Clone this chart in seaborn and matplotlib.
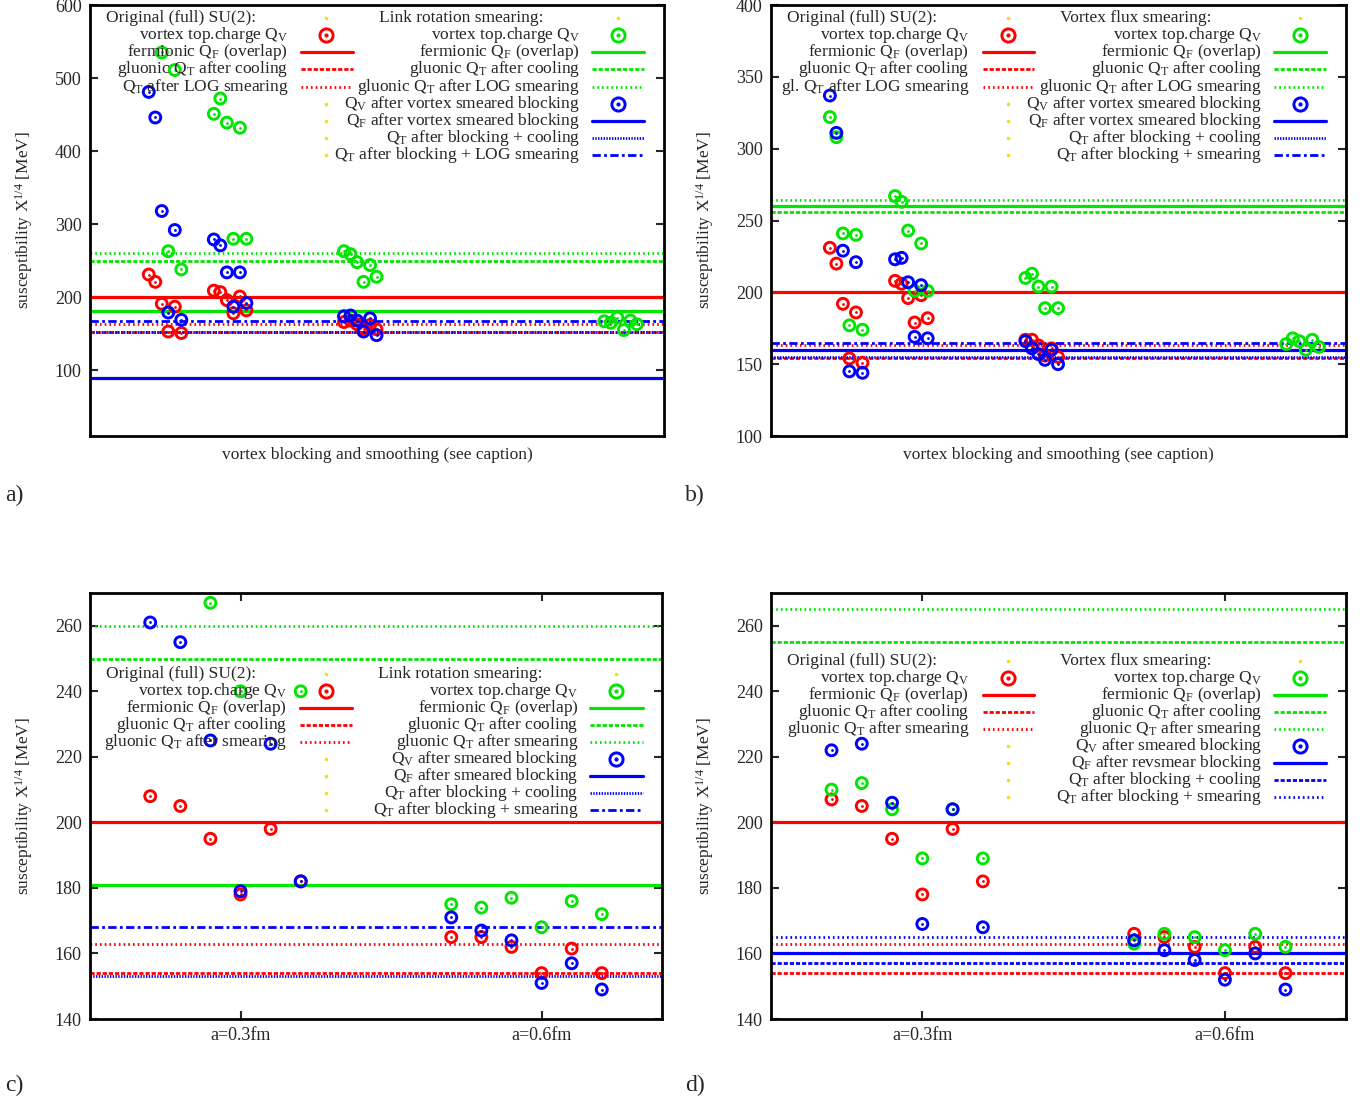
import numpy as np
import matplotlib
matplotlib.use("Agg")
import matplotlib.pyplot as plt
import seaborn as sns

nan = np.nan

# x layout: groups of six configurations
groups_ab = [1, 2, 4, 8]
offsets_ab = [-0.25, -0.15, -0.05, 0.05, 0.15, 0.25]
groups_cd = [0.3, 0.6]
offsets_cd = [-0.09, -0.06, -0.03, 0.0, 0.03, 0.06]

# panel a) link rotation smearing
red_a = [231, 221, 191, 153, 187, 151, 209, 207, 196, 178, 201, 182,
         166, 168, 163, 157, 162, 156, nan, nan, nan, nan, nan, nan]
green_a = [nan, nan, 535, 263, 511, 238, 451, 472, 439, 280, 432, 280,
           263, 259, 248, 221, 244, 228, 167, 165, 172, 155, 168, 163]
blue_a = [481, 446, 318, 179, 292, 169, 279, 271, 234, 187, 234, 192,
          174, 175, 168, 153, 171, 148, nan, nan, nan, nan, nan, nan]
lines_a_red = [200, 153, 164]
lines_a_green = [181, 250, 260]
lines_a_blue = [90, 153, 168]

# panel b) vortex flux smearing
red_b = [231, 220, 192, 154, 186, 151, 208, 206, 196, 179, 198, 182,
         167, 167, 163, 156, 161, 155, nan, nan, nan, nan, nan, nan]
green_b = [322, 308, 241, 177, 240, 174, 267, 263, 243, 201, 234, 201,
           210, 213, 204, 189, 204, 189, 164, 168, 166, 160, 167, 162]
blue_b = [337, 311, 229, 145, 221, 144, 223, 224, 207, 169, 205, 168,
          166, 161, 157, 153, 160, 150, nan, nan, nan, nan, nan, nan]
lines_b_red = [200, 154, 163]
lines_b_green = [260, 256, 264]
lines_b_blue = [160, 155, 165]

# panel c) link rotation smearing, two lattice spacings
red_c = [208, 205, 195, 178, 198, 182, 165, 165, 162, 154, 161.5, 154]
green_c = [nan, nan, 267, 240, nan, 240, 175, 174, 177, 168, 176, 172]
blue_c = [261, 255, 225, 179, 224, 182, 171, 167, 164, 151, 157, 149]
lines_c_red = [200, 154, 163]
lines_c_green = [181, 250, 260]
lines_c_blue = [90, 153, 168]

# panel d) vortex flux smearing, two lattice spacings
red_d = [207, 205, 195, 178, 198, 182, 166, 165, 162, 154, 162, 154]
green_d = [210, 212, 204, 189, 204, 189, 163, 166, 165, 161, 166, 162]
blue_d = [222, 224, 206, 169, 204, 168, 164, 161, 158, 152, 160, 149]
lines_d_red = [200, 154, 163]
lines_d_green = [nan, 255, 265]
lines_d_blue = [160, 157, 165]

RED, GREEN, BLUE, YELLOW = '#ff0000', '#00e600', '#0000ff', '#f5e000'
STYLES = {
    'solid': dict(ls='-', lw=2.3),
    'dashed': dict(ls=(0, (1.5, 0.7)), lw=2.0),
    'dotted': dict(ls=(0, (0.6, 1.1)), lw=2.0),
    'fine': dict(ls=(0, (0.5, 0.5)), lw=2.0),
    'dashdot': dict(ls=(0, (3.0, 1.2, 1.0, 1.2)), lw=2.0),
}

sns.set_style("ticks")
plt.rcParams['font.family'] = ['Liberation Serif', 'DejaVu Serif']
plt.rcParams['mathtext.fontset'] = 'custom'
plt.rcParams['mathtext.rm'] = 'Liberation Serif'
plt.rcParams['mathtext.it'] = 'Liberation Serif:italic'
plt.rcParams['mathtext.default'] = 'rm'

fig = plt.figure(figsize=(13.64, 11.01), dpi=100)


def positions(groups, offsets):
    return [g + o for g in groups for o in offsets]


def draw_points(ax, x, y, color):
    sns.scatterplot(x=x, y=y, ax=ax, marker='o', s=62, color=color,
                    facecolors='none', edgecolor=color, linewidth=2.1, zorder=3)
    sns.scatterplot(x=x, y=y, ax=ax, marker='o', s=4, color=color,
                    edgecolor=color, linewidth=0, zorder=3)


def draw_lines(ax, values, color, kinds):
    for v, k in zip(values, kinds):
        if not np.isnan(v):
            ax.axhline(v, color=color, zorder=2, **STYLES[k])


def draw_key(ax, col1, col2, top):
    step = 0.0398
    cols = [(col1, 0.028, 0.345, (0.368, 0.458), 0.412),
            (col2, 0.503, 0.854, (0.874, 0.966), 0.920)]
    for entries, tx, rx, (l0, l1), mx in cols:
        for i, (label, color, kind) in enumerate(entries):
            y = top - i * step
            if kind == 'title':
                ax.text(tx, y, label, transform=ax.transAxes, ha='left',
                        va='center', fontsize=12.5)
            elif label:
                ax.text(rx, y, label, transform=ax.transAxes, ha='right',
                        va='center', fontsize=12.5)
            if kind in ('title', 'blank'):
                ax.plot([mx], [y], marker='o', ms=1.5, color=YELLOW,
                        transform=ax.transAxes, clip_on=False)
            elif kind == 'point':
                ax.plot([mx], [y], marker='o', ms=9.5, mfc='none', mec=color,
                        mew=2.1, transform=ax.transAxes, clip_on=False)
                ax.plot([mx], [y], marker='o', ms=2, color=color,
                        transform=ax.transAxes, clip_on=False)
            else:
                ax.plot([l0, l1], [y, y], color=color, transform=ax.transAxes,
                        clip_on=False, **STYLES[kind])


def key_left(last):
    return [('Original (full) SU(2):', None, 'title'),
            ('vortex top.charge Q$_\\mathregular{V}$', RED, 'point'),
            ('fermionic Q$_\\mathregular{F}$ (overlap)', RED, 'solid'),
            ('gluonic Q$_\\mathregular{T}$ after cooling', RED, 'dashed'),
            (last, RED, 'dotted'),
            ('', None, 'blank'), ('', None, 'blank'),
            ('', None, 'blank'), ('', None, 'blank')]


def key_right(title, smear, blue_labels, blue_kinds):
    rows = [(title, None, 'title'),
            ('vortex top.charge Q$_\\mathregular{V}$', GREEN, 'point'),
            ('fermionic Q$_\\mathregular{F}$ (overlap)', GREEN, 'solid'),
            ('gluonic Q$_\\mathregular{T}$ after cooling', GREEN, 'dashed'),
            (smear, GREEN, 'dotted'),
            (blue_labels[0], BLUE, 'point')]
    for lab, k in zip(blue_labels[1:], blue_kinds):
        rows.append((lab, BLUE, k))
    return rows


panels = [
    dict(rect=[90, 5, 664, 436], x=positions(groups_ab, offsets_ab),
         red=red_a, green=green_a, blue=blue_a,
         lr=lines_a_red, lg=lines_a_green, lb=lines_a_blue,
         bk=['solid', 'fine', 'dashdot'], ylim=(10, 600), yticks=range(100, 601, 100),
         xlim=(-0.153, 8.667), letter='a)', top=0.970,
         k1=key_left('Q$_\\mathregular{T}$ after LOG smearing'),
         k2=key_right('Link rotation smearing:',
                      'gluonic Q$_\\mathregular{T}$ after LOG smearing',
                      ['Q$_\\mathregular{V}$ after vortex smeared blocking',
                       'Q$_\\mathregular{F}$ after vortex smeared blocking',
                       'Q$_\\mathregular{T}$ after blocking + cooling',
                       'Q$_\\mathregular{T}$ after blocking + LOG smearing'],
                      ['solid', 'fine', 'dashdot'])),
    dict(rect=[771, 5, 1346, 436], x=positions(groups_ab, offsets_ab),
         red=red_b, green=green_b, blue=blue_b,
         lr=lines_b_red, lg=lines_b_green, lb=lines_b_blue,
         bk=['solid', 'fine', 'dashdot'], ylim=(100, 400), yticks=range(100, 401, 50),
         xlim=(-0.153, 8.667), letter='b)', top=0.970,
         k1=key_left('gl. Q$_\\mathregular{T}$ after LOG smearing'),
         k2=key_right('Vortex flux smearing:',
                      'gluonic Q$_\\mathregular{T}$ after LOG smearing',
                      ['Q$_\\mathregular{V}$ after vortex smeared blocking',
                       'Q$_\\mathregular{F}$ after vortex smeared blocking',
                       'Q$_\\mathregular{T}$ after blocking + cooling',
                       'Q$_\\mathregular{T}$ after blocking + smearing'],
                      ['solid', 'fine', 'dashdot'])),
    dict(rect=[90, 593, 662, 1019], x=positions(groups_cd, offsets_cd),
         red=red_c, green=green_c, blue=blue_c,
         lr=lines_c_red, lg=lines_c_green, lb=lines_c_blue,
         bk=['solid', 'fine', 'dashdot'], ylim=(140, 270), yticks=range(140, 261, 20),
         xlim=(0.15, 0.72), letter='c)', top=0.810,
         k1=key_left('gluonic Q$_\\mathregular{T}$ after smearing'),
         k2=key_right('Link rotation smearing:',
                      'gluonic Q$_\\mathregular{T}$ after smearing',
                      ['Q$_\\mathregular{V}$ after smeared blocking',
                       'Q$_\\mathregular{F}$ after smeared blocking',
                       'Q$_\\mathregular{T}$ after blocking + cooling',
                       'Q$_\\mathregular{T}$ after blocking + smearing'],
                      ['solid', 'fine', 'dashdot'])),
    dict(rect=[771, 593, 1346, 1019], x=positions(groups_cd, offsets_cd),
         red=red_d, green=green_d, blue=blue_d,
         lr=lines_d_red, lg=lines_d_green, lb=lines_d_blue,
         bk=['solid', 'dashed', 'dotted'], ylim=(140, 270), yticks=range(140, 261, 20),
         xlim=(0.15, 0.72), letter='d)', top=0.840,
         k1=key_left('gluonic Q$_\\mathregular{T}$ after smearing'),
         k2=key_right('Vortex flux smearing:',
                      'gluonic Q$_\\mathregular{T}$ after smearing',
                      ['Q$_\\mathregular{V}$ after smeared blocking',
                       'Q$_\\mathregular{F}$ after revsmear blocking',
                       'Q$_\\mathregular{T}$ after blocking + cooling',
                       'Q$_\\mathregular{T}$ after blocking + smearing'],
                      ['solid', 'dashed', 'dotted'])),
]

W, H = 1364, 1101
for p in panels:
    x0, y0, x1, y1 = p['rect']
    ax = fig.add_axes([x0 / W, 1 - y1 / H, (x1 - x0) / W, (y1 - y0) / H])
    draw_points(ax, p['x'], p['red'], RED)
    draw_lines(ax, p['lr'], RED, ['solid', 'dashed', 'dotted'])
    draw_points(ax, p['x'], p['green'], GREEN)
    draw_lines(ax, p['lg'], GREEN, ['solid', 'dashed', 'dotted'])
    draw_points(ax, p['x'], p['blue'], BLUE)
    draw_lines(ax, p['lb'], BLUE, p['bk'])
    ax.set_xlim(*p['xlim'])
    ax.set_ylim(*p['ylim'])
    ax.set_yticks(list(p['yticks']))
    if p['letter'] in ('a)', 'b)'):
        ax.set_xticks([])
        ax.set_xlabel('vortex blocking and smoothing (see caption)', fontsize=12.5, labelpad=8)
    else:
        ax.set_xticks(groups_cd)
        ax.set_xticklabels(['a=0.3fm', 'a=0.6fm'])
    ax.set_ylabel('susceptibility X$^{1/4}$ [MeV]', fontsize=12.5, labelpad=14)
    ax.tick_params(direction='in', top=True, right=True, length=6, width=1.5,
                   labelsize=13, pad=6)
    for s in ax.spines.values():
        s.set_linewidth(2.0)
        s.set_color('black')
    draw_key(ax, p['k1'], p['k2'], p['top'])
    lx = 5 if x0 < 500 else 685
    ly = 495 if y0 < 500 else 1085
    fig.text(lx / W, 1 - ly / H, p['letter'], fontsize=17, va='center', ha='left')

fig.savefig('out.png', dpi=100)
